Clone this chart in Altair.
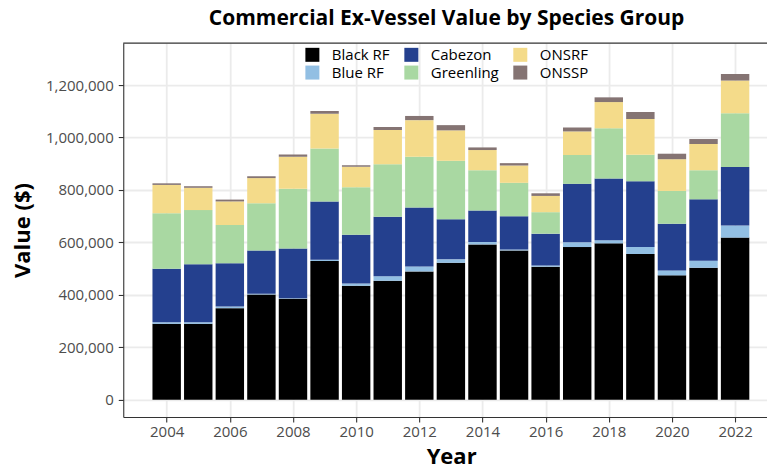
import altair as alt
import pandas as pd

years = list(range(2004, 2023))
species = ["Black RF", "Blue RF", "Cabezon", "Greenling", "ONSRF", "ONSSP"]
# values in thousands of dollars
black_rf = [289, 289, 349, 401, 385, 529, 434, 453, 489, 522, 592, 569, 507, 582, 596, 555, 474, 503, 618]
blue_rf = [6, 6, 6, 3, 2, 5, 9, 18, 19, 13, 9, 4, 5, 18, 12, 27, 19, 27, 46]
cabezon = [204, 221, 165, 165, 189, 222, 186, 227, 225, 153, 120, 126, 121, 223, 235, 251, 178, 234, 223]
greenling = [212, 207, 146, 180, 228, 202, 181, 200, 193, 223, 154, 128, 82, 110, 192, 101, 125, 111, 205]
onsrf = [108, 85, 90, 96, 122, 132, 78, 130, 140, 116, 77, 66, 62, 90, 100, 136, 121, 100, 125]
onssp = [6, 6, 7, 7, 9, 11, 6, 12, 16, 20, 10, 9, 10, 15, 18, 27, 21, 19, 25]
series = [black_rf, blue_rf, cabezon, greenling, onsrf, onssp]

colors = {
    "Black RF": "#000000",
    "Blue RF": "#92BFE3",
    "Cabezon": "#24408E",
    "Greenling": "#A9D8A2",
    "ONSRF": "#F4DB8A",
    "ONSSP": "#857473",
}
legend_order = ["Black RF", "Cabezon", "ONSRF", "Blue RF", "Greenling", "ONSSP"]
y_ticks = [0, 200000, 400000, 600000, 800000, 1000000, 1200000]
x_ticks = list(range(2004, 2023, 2))

rows = []
for i, yr in enumerate(years):
    for k, (sp, arr) in enumerate(zip(species, series)):
        rows.append({"Year": yr, "Species": sp, "Value": arr[i] * 1000, "rank": k})
df = pd.DataFrame(rows)

W, H = 644, 374
FONT = "Open Sans"

bars = (
    alt.Chart(df)
    .transform_stack(
        stack="Value",
        groupby=["Year"],
        as_=["v0", "v1"],
        sort=[alt.SortField("rank", order="ascending")],
    )
    .transform_calculate(x0="datum.Year - 0.45", x1="datum.Year + 0.45")
    .mark_bar()
    .encode(
        x=alt.X(
            "x0:Q",
            scale=alt.Scale(domain=[2002.625, 2023.01], nice=False, zero=False),
            axis=alt.Axis(
                values=x_ticks,
                format="d",
                title="Year",
                titleX=W / 2 + 6,
                titleY=47,
                titleBaseline="alphabetic",
                titleAlign="center",
                labelPadding=3,
            ),
        ),
        x2="x1:Q",
        y=alt.Y(
            "v0:Q",
            scale=alt.Scale(domain=[-66000, 1360000], nice=False, zero=False),
            axis=alt.Axis(
                values=y_ticks,
                format=",d",
                title="Value ($)",
                titleX=-94,
                titleY=H / 2,
                titleAngle=270,
                titleAlign="center",
                titleBaseline="alphabetic",
                labelPadding=5,
            ),
        ),
        y2="v1:Q",
        color=alt.Color(
            "Species:N",
            scale=alt.Scale(domain=legend_order, range=[colors[s] for s in legend_order]),
            legend=alt.Legend(
                title=None,
                orient="none",
                legendX=181.7,
                legendY=4,
                columns=3,
                direction="horizontal",
                symbolType="square",
                symbolSize=196,
                symbolStrokeWidth=0,
                labelFontSize=15,
                labelFont=FONT,
                labelColor="#000000",
                labelOffset=12,
                columnPadding=14,
                rowPadding=2,
                padding=0,
            ),
        ),
    )
)

border = (
    alt.Chart(pd.DataFrame({"a": [0]}))
    .mark_rule(color="#333333", strokeWidth=1.1)
    .encode(x=alt.value(0), x2=alt.value(W), y=alt.value(0))
)

chart = (
    alt.layer(bars, border)
    .properties(
        width=W,
        height=H,
        autosize=alt.AutoSizeParams(type="none"),
        padding={"left": 115.3, "top": 35, "right": 0, "bottom": 49},
        title=alt.TitleParams(
            "Commercial Ex-Vessel Value by Species Group",
            anchor="middle",
            font=FONT,
            fontSize=21,
            fontWeight="bold",
            color="#000000",
            offset=14,
            dx=1.5,
        ),
    )
    .configure_view(stroke=None)
    .configure_axis(
        labelFont=FONT,
        labelFontSize=15,
        labelColor="#4D4D4D",
        titleFont=FONT,
        titleFontSize=22,
        titleFontWeight="bold",
        titleColor="#000000",
        gridColor="#EBEBEB",
        gridWidth=1.8,
        domainColor="#333333",
        domainWidth=1.1,
        tickColor="#333333",
        tickSize=5,
        tickWidth=1.1,
    )
)

chart.save("out.html", embed_options={"renderer": "svg", "actions": False})
